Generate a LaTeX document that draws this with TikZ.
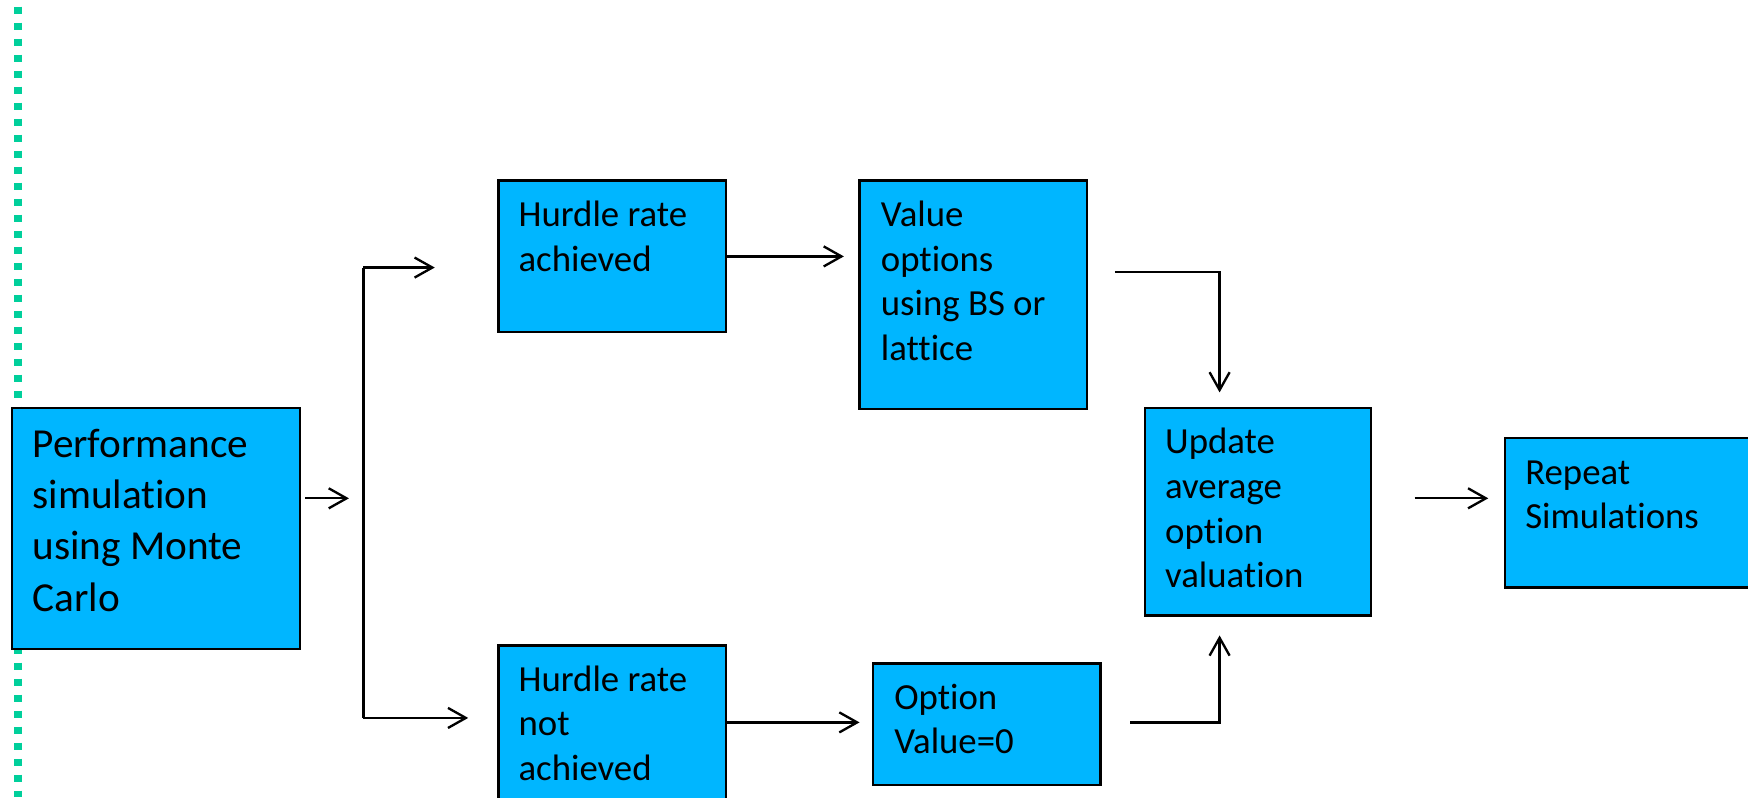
\documentclass[tikz,border=0pt]{standalone}
\usepackage{fontspec}
\setmainfont[Ligatures={NoCommon}]{Carlito}
\usetikzlibrary{arrows.meta,calc}
\definecolor{boxblue}{RGB}{0,182,255}
\definecolor{dotgreen}{RGB}{0,207,155}
\begin{document}
\begin{tikzpicture}[x=1pt,y=-1pt,
  box/.style={draw=black, line width=2.2pt, fill=boxblue, anchor=north west, inner sep=0pt, outer sep=0pt},
  txt/.style={anchor=north west, inner sep=0pt, align=left, font=\fontsize{33}{40}\selectfont},
  bigtxt/.style={anchor=north west, inner sep=0pt, align=left, font=\fontsize{37}{46}\selectfont},
  arr/.style={line width=2.1pt, -{Straight Barb[length=16pt,width=18pt]}},
  conn/.style={line width=2.1pt}]
\useasboundingbox (0,0) rectangle (1568,715);
\draw[dotgreen, line width=7pt, dash pattern=on 7pt off 7.35pt] (16,6) -- (16,715);

% boxes
\node[box, minimum width=258pt, minimum height=216pt] (A) at (11,366) {};
\node[box, minimum width=204pt, minimum height=136pt] (B) at (447,162) {};
\node[box, minimum width=204pt, minimum height=205pt] (C) at (771,162) {};
\node[box, minimum width=204pt, minimum height=150pt] (D) at (447,579) {};
\node[box, minimum width=204pt, minimum height=109pt] (E) at (783,595) {};
\node[box, minimum width=203pt, minimum height=186pt] (F) at (1027,366) {};
\node[box, minimum width=240pt, minimum height=134pt] (G) at (1350,393) {};

% texts
\node[bigtxt] (At) at ($(A.north west)+(18,12)$) {\rule{0pt}{32pt}Performance\\simulation\\using Monte\\Carlo};
\node[txt] (Bt) at ($(B.north west)+(18,13)$) {\rule{0pt}{28pt}Hurdle rate\\achieved};
\node[txt] (Ct) at ($(C.north west)+(19,13)$) {\rule{0pt}{28pt}Value\\options\\using BS or\\lattice};
\node[txt] (Dt) at ($(D.north west)+(18,13)$) {\rule{0pt}{28pt}Hurdle rate\\not\\achieved};
\node[txt] (Et) at ($(E.north west)+(19,13)$) {\rule{0pt}{28pt}Option\\Value=0};
\node[txt] (Ft) at ($(F.north west)+(18,13)$) {\rule{0pt}{28pt}Update\\average\\option\\valuation};
\node[txt] (Gt) at ($(G.north west)+(18,13)$) {\rule{0pt}{28pt}Repeat\\Simulations};

% connector points
\coordinate (a1) at (313,447);
\coordinate (v1) at (326,240);
\coordinate (v2) at (326,644);
\coordinate (b1) at (390,240);
\coordinate (d1) at (420,644);
\coordinate (c1) at (1000,244);
\coordinate (c2) at (1094,244);
\coordinate (e1) at (1014,648);
\coordinate (f1) at (1269,447);

% connectors
\draw[arr, shorten <=5pt] (A.east |- a1) -- (a1);
\draw[conn] (v1) -- (v2);
\draw[arr] (v1) -- (b1);
\draw[arr] (v2) -- (d1);
\draw[arr, shorten >=14pt] (B.east) -- (C.west |- B.east);
\draw[arr, shorten >=14pt] (c1) -| (c2 |- F.north);
\draw[arr, shorten >=12pt] (D.east |- e1) -- (E.west |- e1);
\draw[arr, shorten >=18pt] (e1) -| (c2 |- F.south);
\draw[arr, shorten >=15pt] (f1) -- (G.west |- f1);
\end{tikzpicture}
\end{document}
